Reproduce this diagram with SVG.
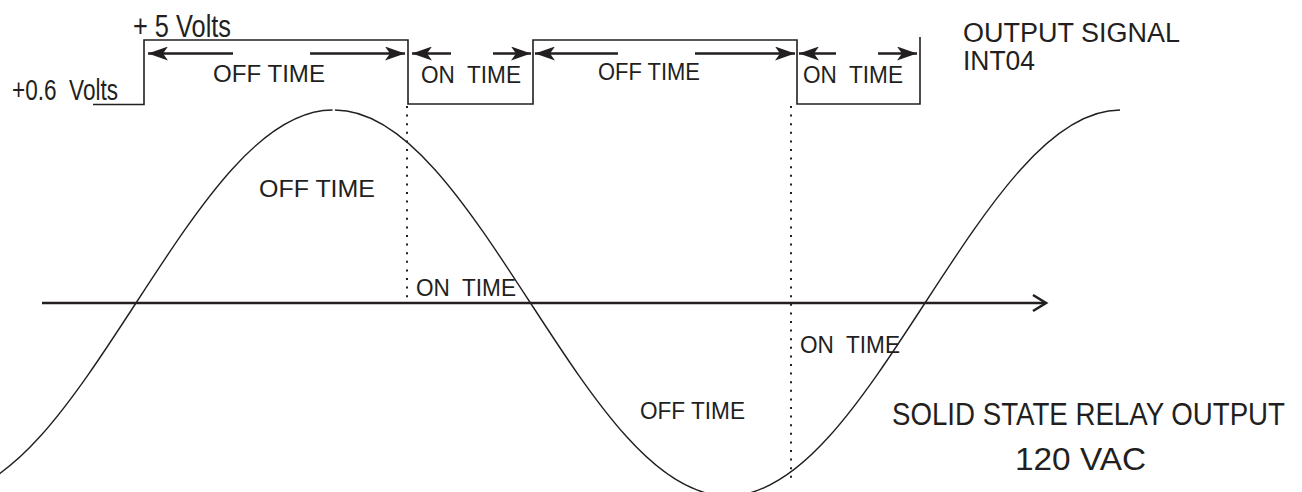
<svg xmlns="http://www.w3.org/2000/svg" width="1302" height="492" viewBox="0 0 1302 492">
<style>
text{font-family:"Liberation Sans",Arial,sans-serif;fill:#231f20}
.lbl{font-size:24px}
.big{font-size:27px}
.tall{font-size:26px}
.sq{fill:none;stroke:#231f20;stroke-width:1.6}
.arr{stroke:#231f20;stroke-width:2.6;fill:none;marker-end:url(#ah)}
.dot{stroke:#231f20;stroke-width:2;stroke-dasharray:2 6.6;fill:none}
.sine{fill:none;stroke:#231f20;stroke-width:1.4}
</style>
<defs>
<marker id="ah" markerUnits="userSpaceOnUse" markerWidth="22" markerHeight="14" refX="20" refY="7" orient="auto">
<path d="M0,0 L20,7 L0,14 L5,7 Z" fill="#231f20"/>
</marker>
</defs>
<rect width="1302" height="492" fill="#fff"/>
<g id="connectors">
<path id="sine" class="sine" d="M-61.25,496 C10.14,496 71.67,401.87 136,303 C200.33,204.13 261.86,110 332.5,110 M335,110 C404.64,110 466.17,204.13 530.5,303 C594.83,401.87 656.36,496 727.75,496 C799.14,496 860.67,401.87 925,303 C989.33,204.13 1050.86,110 1120,110"/>
<path id="signal" class="sq" d="M93,104.5 H144 V40 H408 V104 H533 V40 H797 V104 H920 V37"/>
<line class="dot" x1="407" y1="106" x2="407" y2="302"/>
<line class="dot" x1="791" y1="106" x2="791" y2="478"/>
<g id="axis">
<line x1="42" y1="303" x2="1045" y2="303" stroke="#231f20" stroke-width="2.6"/>
<path d="M1033,295 L1046,303 L1033,311" fill="none" stroke="#231f20" stroke-width="2.6"/>
</g>
<line class="arr" x1="233" y1="53.5" x2="148" y2="53.5"/>
<line class="arr" x1="310" y1="53.5" x2="405" y2="53.5"/>
<line class="arr" x1="451" y1="53.5" x2="412" y2="53.5"/>
<line class="arr" x1="493" y1="53.5" x2="531" y2="53.5"/>
<line class="arr" x1="618" y1="53.5" x2="535" y2="53.5"/>
<line class="arr" x1="695" y1="53.5" x2="795" y2="53.5"/>
<line class="arr" x1="836" y1="53.5" x2="799" y2="53.5"/>
<line class="arr" x1="878" y1="53.5" x2="917" y2="53.5"/>
</g>
<g id="volt5"><text class="tall" transform="translate(133,37) scale(1,1.2)" textLength="98" lengthAdjust="spacingAndGlyphs">+ 5 Volts</text></g>
<g id="volt06"><text class="tall" transform="translate(12,100) scale(1,1.15)" textLength="106" lengthAdjust="spacingAndGlyphs" xml:space="preserve">+0.6  Volts</text></g>
<g id="off1"><text class="lbl" x="213" y="82" textLength="112" lengthAdjust="spacingAndGlyphs">OFF TIME</text></g>
<g id="on1"><text class="lbl" x="421" y="83" textLength="100" lengthAdjust="spacingAndGlyphs" xml:space="preserve">ON  TIME</text></g>
<g id="off2"><text class="lbl" x="598" y="80" textLength="102" lengthAdjust="spacingAndGlyphs">OFF TIME</text></g>
<g id="on2"><text class="lbl" x="803" y="83" textLength="100" lengthAdjust="spacingAndGlyphs" xml:space="preserve">ON  TIME</text></g>
<g id="outsig"><text class="big" x="963" y="42" textLength="217" lengthAdjust="spacingAndGlyphs">OUTPUT SIGNAL</text>
<text class="big" x="963" y="70" textLength="72" lengthAdjust="spacingAndGlyphs">INT04</text></g>
<g id="offmid"><text class="lbl" x="259" y="197" textLength="116" lengthAdjust="spacingAndGlyphs">OFF TIME</text></g>
<g id="onmid"><text class="lbl" x="416" y="296" textLength="100" lengthAdjust="spacingAndGlyphs" xml:space="preserve">ON  TIME</text></g>
<g id="onright"><text class="lbl" x="800" y="353" textLength="100" lengthAdjust="spacingAndGlyphs" xml:space="preserve">ON  TIME</text></g>
<g id="offbot"><text class="lbl" x="640" y="419" textLength="105" lengthAdjust="spacingAndGlyphs">OFF TIME</text></g>
<g id="ssr"><text class="big" transform="translate(892,425) scale(1,1.18)" textLength="393" lengthAdjust="spacingAndGlyphs">SOLID STATE RELAY OUTPUT</text>
<text class="big" transform="translate(1015,470) scale(1,1.18)" textLength="131" lengthAdjust="spacingAndGlyphs">120 VAC</text></g>
</svg>
